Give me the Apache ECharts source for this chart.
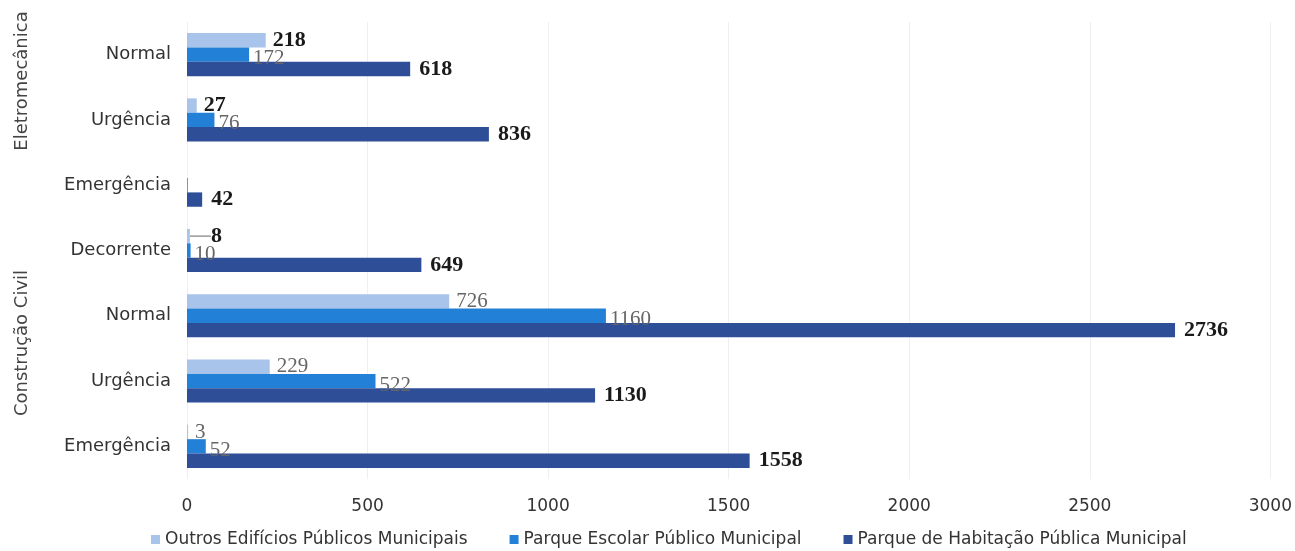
<!DOCTYPE html>
<html>
<head>
<meta charset="utf-8">
<script src="https://cdn.jsdelivr.net/npm/echarts@6/dist/echarts.min.js"></script>
<style>
  html, body { margin: 0; padding: 0; background: #ffffff; }
  #chart { width: 1295px; height: 551px; }
</style>
</head>
<body>
<div id="chart"></div>
<script>
// Categories, top to bottom
const categories = ['Normal', 'Urgência', 'Emergência', 'Decorrente', 'Normal', 'Urgência', 'Emergência'];
const groupNames = ['Eletromecânica', 'Construção Civil'];
const seriesNames = [
  'Outros Edifícios Públicos Municipais',
  'Parque Escolar Público Municipal',
  'Parque de Habitação Pública Municipal'
];
// Values per series, same order as categories
const outros = [218, 27, 0, 8, 726, 229, 3];
const escolar = [172, 76, 2, 10, 1160, 522, 52];
const habitacao = [618, 836, 42, 649, 2736, 1130, 1558];
// X axis ticks
const xTicks = [0, 500, 1000, 1500, 2000, 2500, 3000];

const colors = ['#a9c4ea', '#2280d6', '#2e4e98'];
const numFont = '"Liberation Serif", serif';
const textFont = '"DejaVu Sans", sans-serif';

const darkLabel = { color: '#1a1a1a', fontWeight: 'bold', fontFamily: numFont, fontSize: 22 };
const greyLabel = { color: '#666', fontWeight: 'normal', fontFamily: numFont, fontSize: 21 };

// Which items get a dark label in the first series; zero-ish items unlabeled
const outrosDark = [0, 1, 3];
const hiddenLabel = { 0: [2], 1: [2], 2: [] };
// Item whose label is pushed out with a leader line
const leaderItem = 3;

function buildData(values, seriesIdx, styleFor) {
  return values.map((v, i) => {
    const hide = hiddenLabel[seriesIdx].indexOf(i) >= 0;
    const item = { value: v, label: Object.assign({ show: !hide }, styleFor(i)) };
    if (seriesIdx === 0 && i === leaderItem) {
      item.labelLine = { show: true, lineStyle: { color: '#999', width: 1.5 } };
    }
    return item;
  });
}

const chart = echarts.init(document.getElementById('chart'));

const option = {
  animation: false,
  backgroundColor: '#ffffff',
  grid: { left: 187, right: 23, top: 22, bottom: 72, containLabel: false },
  legend: {
    data: seriesNames,
    left: 146,
    top: 526,
    itemWidth: 9,
    itemHeight: 9,
    itemGap: 42,
    icon: 'rect',
    textStyle: { fontFamily: textFont, fontSize: 17, color: '#333' }
  },
  xAxis: {
    type: 'value',
    min: xTicks[0],
    max: xTicks[xTicks.length - 1],
    interval: xTicks[1] - xTicks[0],
    axisLine: { show: false },
    axisTick: { show: false },
    splitLine: { show: true, lineStyle: { color: '#efefef', width: 1 } },
    axisLabel: {
      margin: 19, fontFamily: textFont, fontSize: 17, color: '#333',
      formatter: v => String(v)
    }
  },
  yAxis: {
    type: 'category',
    data: categories,
    inverse: true,
    axisLine: { show: false },
    axisTick: { show: false },
    axisLabel: { margin: 16, fontFamily: textFont, fontSize: 18, color: '#333' }
  },
  series: [
    {
      name: seriesNames[0],
      type: 'bar',
      barGap: '0%',
      barCategoryGap: '34%',
      itemStyle: { color: colors[0] },
      label: { position: 'right', distance: 7, offset: [0, -2] },
      labelLine: { show: false },
      labelLayout: function (p) {
        return p.dataIndex === leaderItem ? { dx: 14 } : {};
      },
      data: buildData(outros, 0, i => (outrosDark.indexOf(i) >= 0 ? darkLabel : greyLabel))
    },
    {
      name: seriesNames[1],
      type: 'bar',
      barGap: '0%',
      barCategoryGap: '34%',
      itemStyle: { color: colors[1] },
      label: { position: 'right', distance: 4, offset: [0, 4] },
      data: buildData(escolar, 1, () => greyLabel)
    },
    {
      name: seriesNames[2],
      type: 'bar',
      barGap: '0%',
      barCategoryGap: '34%',
      itemStyle: { color: colors[2] },
      label: { position: 'right', distance: 9 },
      data: buildData(habitacao, 2, () => darkLabel)
    }
  ]
};

chart.setOption(option);

// Vertical group titles beside the category labels
const groupCenters = [81, 343];
chart.setOption({
  graphic: groupNames.map((name, g) => ({
    type: 'text',
    x: 22,
    y: groupCenters[g],
    rotation: Math.PI / 2,
    style: {
      text: name,
      fontFamily: textFont,
      fontSize: 18,
      fill: '#444',
      textAlign: 'center',
      textVerticalAlign: 'middle'
    }
  }))
});
</script>
</body>
</html>
